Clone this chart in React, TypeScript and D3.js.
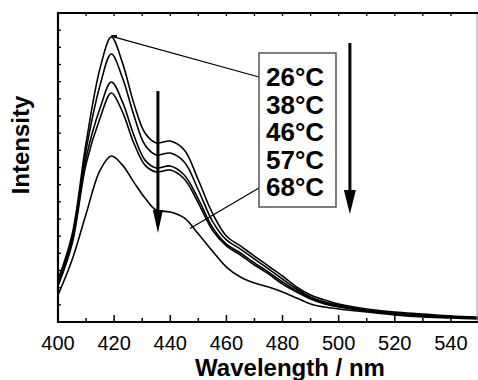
import { useEffect, useRef } from 'react';
import * as d3 from 'd3';

// wavelengths (nm) and intensities
const wavelengths = [400, 405, 410, 415, 419, 423, 427, 431, 435, 440, 445, 450, 455, 460, 465, 470, 475, 480, 485, 490, 495, 500, 510, 520, 530, 540, 550];
const t26 = [2.45, 5.07, 10.43, 14.79, 16.6, 15.08, 12.75, 11.01, 10.43, 10.54, 10.02, 8.27, 6.35, 5.01, 4.43, 3.84, 3.26, 2.68, 2.04, 1.57, 1.28, 1.05, 0.76, 0.58, 0.47, 0.35, 0.29];
const t38 = [2.27, 4.89, 10.02, 13.8, 15.61, 14.21, 12.06, 10.31, 9.73, 9.84, 9.32, 7.69, 5.88, 4.78, 4.25, 3.67, 3.09, 2.5, 1.92, 1.46, 1.16, 0.99, 0.7, 0.52, 0.41, 0.29, 0.23];
const t46 = [2.15, 4.66, 9.55, 12.46, 13.98, 12.81, 10.89, 9.43, 8.97, 9.09, 8.56, 7.16, 5.53, 4.54, 4.02, 3.44, 2.91, 2.33, 1.81, 1.4, 1.11, 0.93, 0.64, 0.47, 0.35, 0.29, 0.23];
const t57 = [2.1, 4.54, 9.2, 11.88, 13.34, 12.23, 10.43, 9.14, 8.74, 8.85, 8.33, 6.93, 5.36, 4.43, 3.9, 3.32, 2.8, 2.21, 1.75, 1.34, 1.05, 0.87, 0.64, 0.47, 0.35, 0.29, 0.23];
const t68 = [1.57, 3.61, 6.29, 8.85, 9.67, 9.14, 8.15, 7.22, 6.52, 6.41, 6.06, 5.13, 4.14, 3.2, 2.62, 2.27, 2.04, 1.75, 1.4, 1.05, 0.87, 0.76, 0.58, 0.41, 0.29, 0.23, 0.17];
const seriesList = [t26, t38, t46, t57, t68];
const legendLabels = ['26°C', '38°C', '46°C', '57°C', '68°C'];
const xTickLabels = [400, 420, 440, 460, 480, 500, 520, 540];

const W = 478;
const H = 380;
const FONT = "Arial, 'Liberation Sans', sans-serif";

export default function App() {
  const svgRef = useRef<SVGSVGElement>(null);

  useEffect(() => {
    const svg = d3.select(svgRef.current);
    svg.selectAll('*').remove();

    const x = d3.scaleLinear().domain([400, 550]).range([58, 479]);
    const y = d3.scaleLinear().domain([0, 18]).range([322, 13]);

    const line = d3.line<number>()
      .x((d, i) => x(wavelengths[i]))
      .y(d => y(d))
      .curve(d3.curveCatmullRom.alpha(0.5));

    // clip
    svg.append('defs').append('clipPath').attr('id', 'plot')
      .append('rect').attr('x', 58).attr('y', 13).attr('width', 420).attr('height', 309);

    // curves
    svg.append('g').attr('clip-path', 'url(#plot)')
      .selectAll('path')
      .data(seriesList)
      .enter().append('path')
      .attr('d', d => line(d))
      .attr('fill', 'none')
      .attr('stroke', '#000')
      .attr('stroke-width', 1.6);

    // frame
    svg.append('line').attr('x1', 477).attr('x2', 477).attr('y1', 13).attr('y2', 322)
      .attr('stroke', '#999').attr('stroke-width', 1);
    svg.append('line').attr('x1', 57).attr('x2', 478).attr('y1', 13).attr('y2', 13)
      .attr('stroke', '#000').attr('stroke-width', 2);
    svg.append('line').attr('x1', 58).attr('x2', 58).attr('y1', 12).attr('y2', 323)
      .attr('stroke', '#000').attr('stroke-width', 2.2);
    svg.append('line').attr('x1', 57).attr('x2', 478).attr('y1', 322).attr('y2', 322)
      .attr('stroke', '#000').attr('stroke-width', 2.2);

    // bottom ticks
    const xTicks = d3.range(410, 550, 10);
    svg.append('g').selectAll('line').data(xTicks).enter().append('line')
      .attr('x1', d => x(d)).attr('x2', d => x(d))
      .attr('y1', 322).attr('y2', d => (d % 20 === 0 ? 315 : 318))
      .attr('stroke', '#000').attr('stroke-width', 1.5);
    // top ticks
    svg.append('g').selectAll('line').data(xTicks).enter().append('line')
      .attr('x1', d => x(d)).attr('x2', d => x(d))
      .attr('y1', 13).attr('y2', 16)
      .attr('stroke', '#000').attr('stroke-width', 1.3);
    // left ticks
    svg.append('g').selectAll('line').data(d3.range(1, 18)).enter().append('line')
      .attr('x1', 58).attr('x2', 61)
      .attr('y1', d => y(d)).attr('y2', d => y(d))
      .attr('stroke', '#000').attr('stroke-width', 1.3);

    // tick labels
    svg.append('g').selectAll('text').data(xTickLabels).enter().append('text')
      .attr('x', d => x(d)).attr('y', 350)
      .attr('text-anchor', 'middle')
      .attr('font-family', FONT).attr('font-size', 20)
      .text(d => d);

    // axis titles
    svg.append('text').attr('x', 290).attr('y', 376)
      .attr('text-anchor', 'middle').attr('font-family', FONT)
      .attr('font-size', 24).attr('font-weight', 'bold')
      .text('Wavelength / nm');
    svg.append('text')
      .attr('transform', 'translate(29,145) rotate(-90)')
      .attr('text-anchor', 'middle').attr('font-family', FONT)
      .attr('font-size', 24).attr('font-weight', 'bold')
      .text('Intensity');

    // pointer lines
    svg.append('line').attr('x1', x(419.5)).attr('y1', y(16.62)).attr('x2', 259).attr('y2', 77)
      .attr('stroke', '#000').attr('stroke-width', 1.2);
    svg.append('line').attr('x1', x(419)).attr('y1', y(16.66)).attr('x2', x(421)).attr('y2', y(16.66))
      .attr('stroke', '#000').attr('stroke-width', 2);
    svg.append('line').attr('x1', 259).attr('y1', 188).attr('x2', x(447)).attr('y2', y(5.45))
      .attr('stroke', '#000').attr('stroke-width', 1.2);

    // legend box
    svg.append('rect').attr('x', 259).attr('y', 53).attr('width', 77).attr('height', 154)
      .attr('fill', '#fff').attr('stroke', '#555').attr('stroke-width', 1.5);
    svg.append('g').selectAll('text').data(legendLabels).enter().append('text')
      .attr('x', 266).attr('y', (d, i) => 86 + i * 27.6)
      .attr('font-family', FONT).attr('font-size', 26).attr('font-weight', 'bold')
      .text(d => d);

    // arrows
    const arrow = (nm: number, top: number, headStart: number, tip: number, half: number) => {
      const ax = x(nm);
      svg.append('line').attr('x1', ax).attr('x2', ax).attr('y1', y(top)).attr('y2', y(headStart) + 2)
        .attr('stroke', '#000').attr('stroke-width', 3);
      svg.append('path')
        .attr('d', `M${ax - half},${y(headStart)} L${ax + half},${y(headStart)} L${ax},${y(tip)} Z`)
        .attr('fill', '#000');
    };
    arrow(435.6, 13.45, 6.52, 5.18, 5);
    arrow(504, 16.25, 7.69, 6.29, 6);
  }, []);

  return (
    <div style={{ position: 'absolute', left: 0, top: 0 }}>
      <svg ref={svgRef} width={W} height={H} style={{ display: 'block', background: '#fff' }}></svg>
    </div>
  );
}
